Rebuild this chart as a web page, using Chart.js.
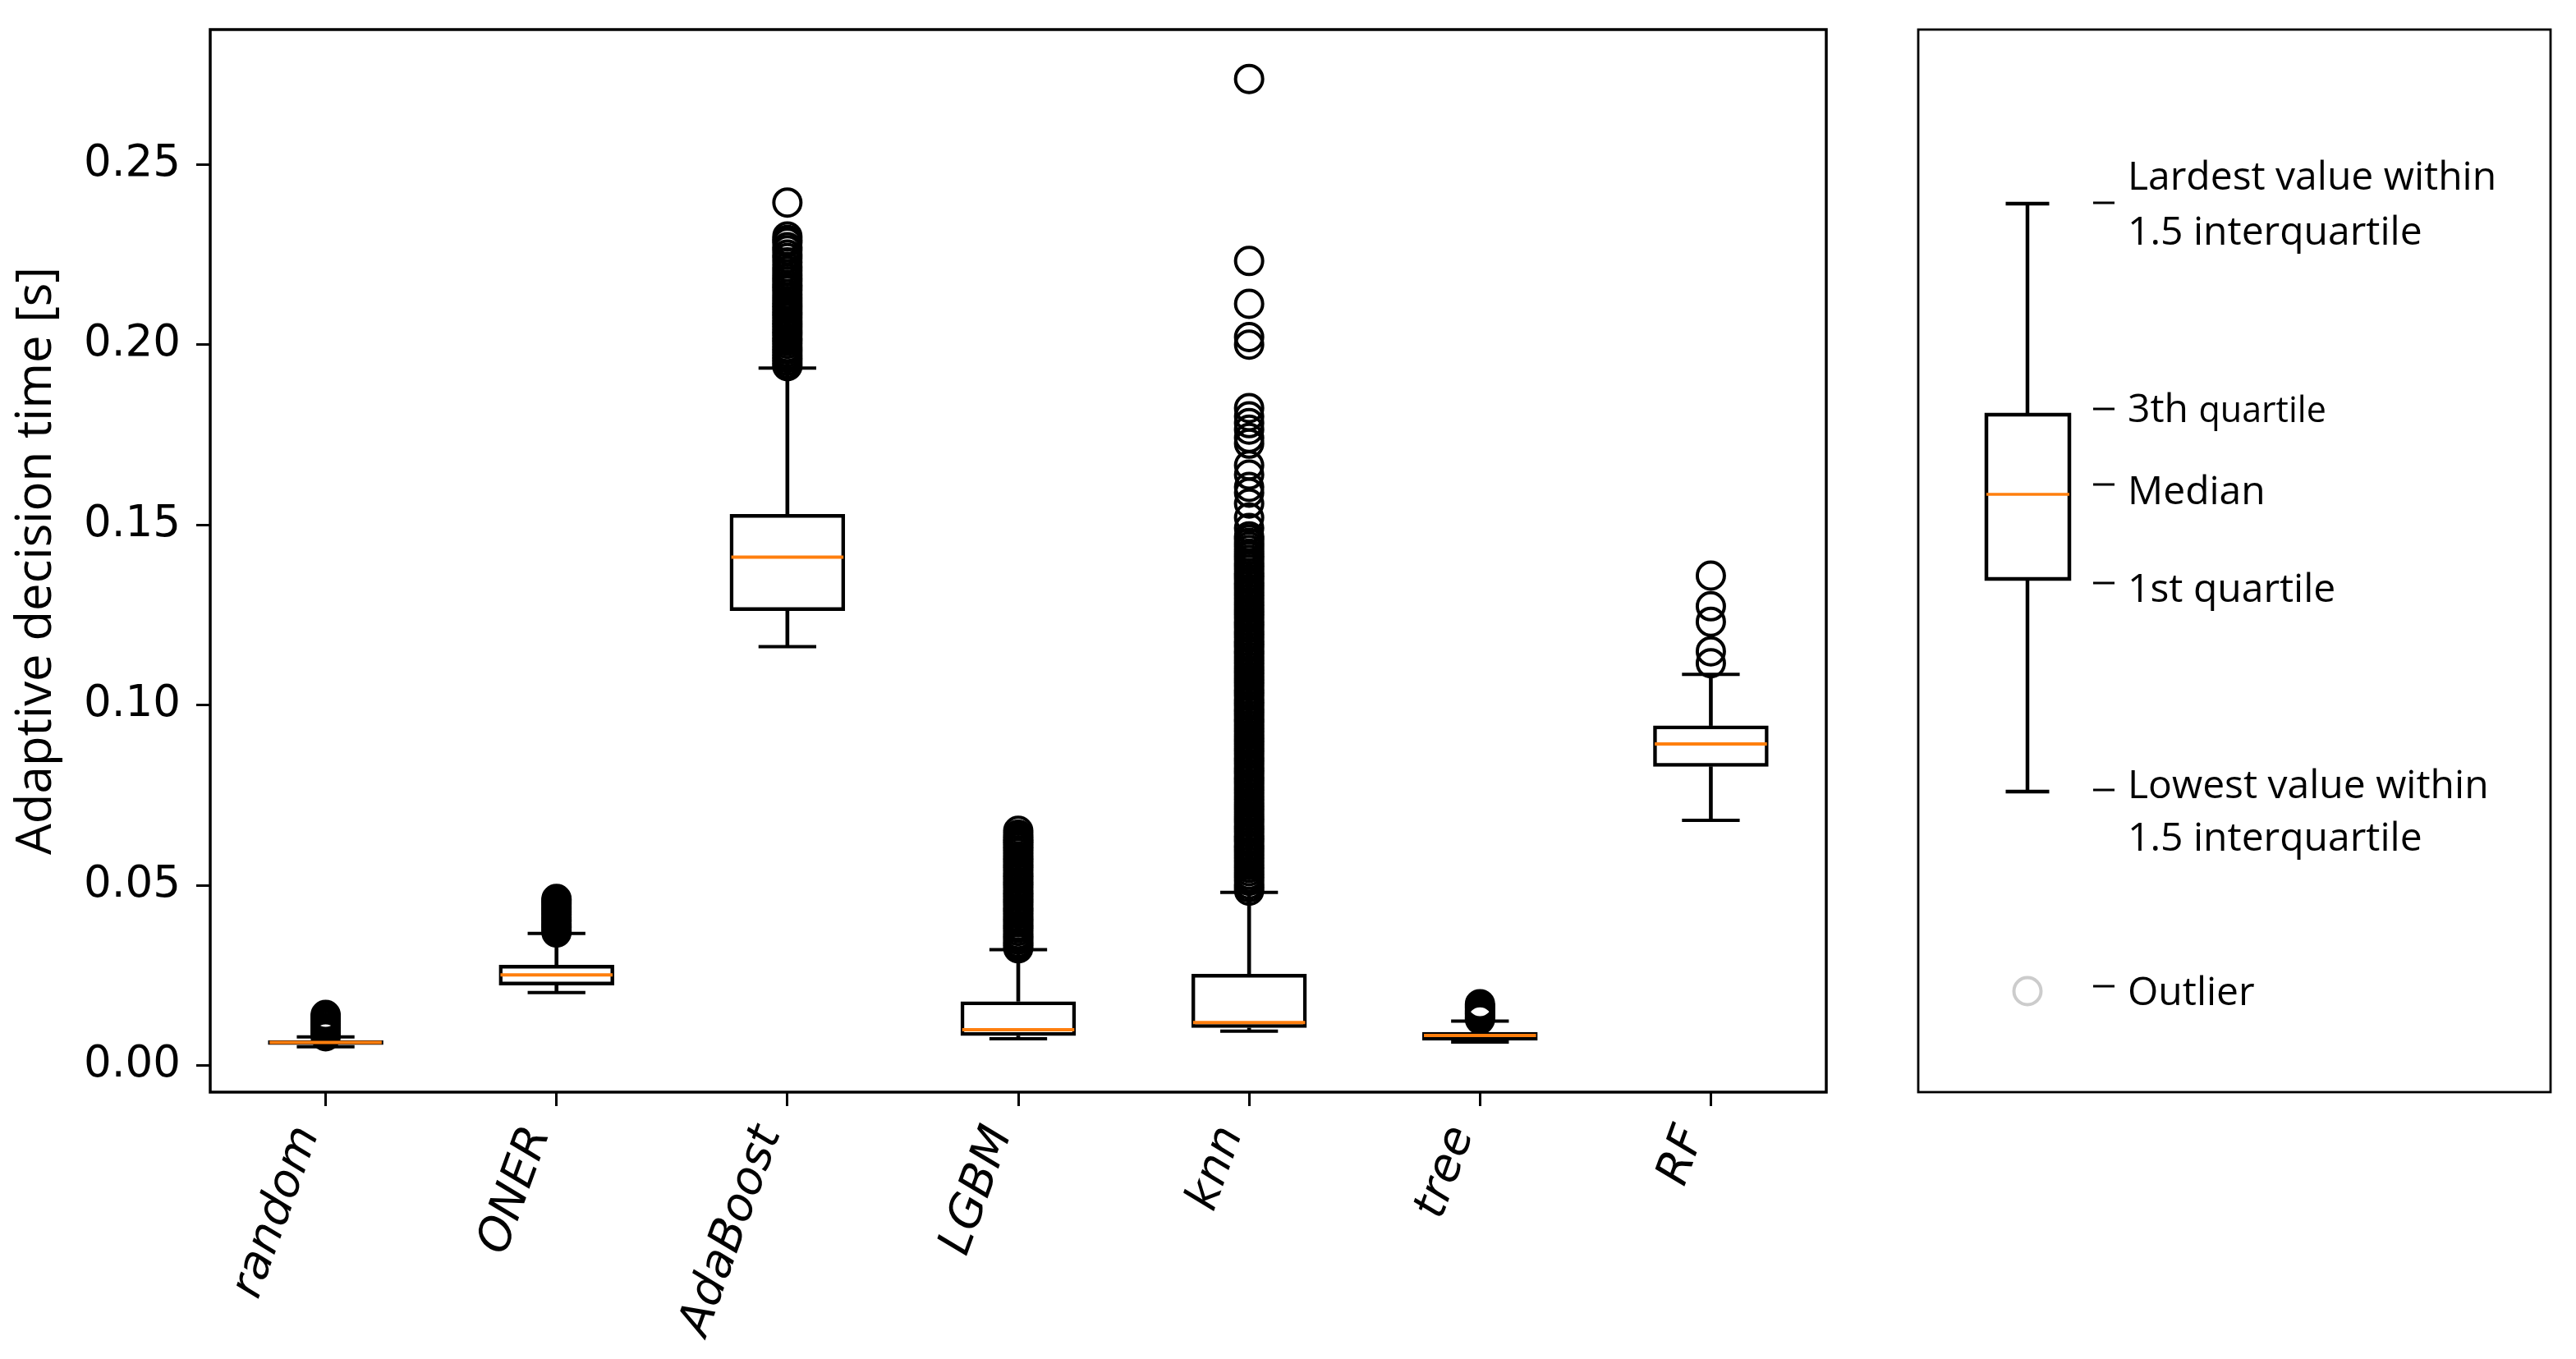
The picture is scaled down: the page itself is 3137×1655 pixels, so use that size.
<!DOCTYPE html>
<html>
<head>
<meta charset="utf-8">
<script src="https://cdn.jsdelivr.net/npm/chart.js@4.4.1/dist/chart.umd.min.js"></script>
<style>
  html, body { margin: 0; padding: 0; background: #ffffff; overflow: hidden; }
  canvas { display: block; }
</style>
</head>
<body>
<canvas id="c" width="3137" height="1655"></canvas>
<script>
// ---------------- data ----------------
const categories = ['random', 'ONER', 'AdaBoost', 'LGBM', 'knn', 'tree', 'RF'];

const whiskerLow  = [0.0052, 0.0202, 0.1162, 0.0074, 0.0095, 0.0065, 0.0680];
const quartile1   = [0.0057, 0.0222, 0.1261, 0.0082, 0.0104, 0.0069, 0.0829];
const medians     = [0.0064, 0.0251, 0.1410, 0.0099, 0.0119, 0.0083, 0.0892];
const quartile3   = [0.0070, 0.0279, 0.1530, 0.0178, 0.0254, 0.0093, 0.0943];
const whiskerHigh = [0.0079, 0.0366, 0.1935, 0.0321, 0.0480, 0.0123, 0.1085];

const outliersRandom = [0.0081, 0.0087, 0.0094, 0.0099, 0.0105, 0.0112, 0.0117, 0.0123, 0.0130, 0.0135, 0.0140];
const outliersONER = [0.0369, 0.0375, 0.0382, 0.0387, 0.0393, 0.0400, 0.0405, 0.0411, 0.0418, 0.0423, 0.0429,
  0.0436, 0.0441, 0.0447, 0.0453, 0.0458, 0.0462];
const outliersAdaBoost = [0.1940, 0.1947, 0.1955, 0.1963, 0.1970, 0.1978, 0.1986, 0.1993, 0.2002, 0.2010, 0.2017,
  0.2026, 0.2034, 0.2041, 0.2050, 0.2058, 0.2065, 0.2074, 0.2082, 0.2089, 0.2098, 0.2106, 0.2113, 0.2121,
  0.2130, 0.2140, 0.2150, 0.2158, 0.2166, 0.2176, 0.2185, 0.2195, 0.2205, 0.2215, 0.2228, 0.2240, 0.2250,
  0.2262, 0.2270, 0.2283, 0.2290, 0.2300, 0.2394];
const outliersLGBM = [0.0325, 0.0333, 0.0340, 0.0349, 0.0357, 0.0364, 0.0373, 0.0381, 0.0388, 0.0397, 0.0405,
  0.0412, 0.0421, 0.0429, 0.0436, 0.0445, 0.0453, 0.0460, 0.0469, 0.0477, 0.0484, 0.0493, 0.0501, 0.0508,
  0.0517, 0.0525, 0.0532, 0.0541, 0.0549, 0.0556, 0.0565, 0.0573, 0.0580, 0.0589, 0.0597, 0.0605, 0.0612,
  0.0619, 0.0625, 0.0632, 0.0640, 0.0651];
const outliersKnn = [0.0485, 0.0494, 0.0502, 0.0512, 0.0521, 0.0529, 0.0539, 0.0548, 0.0556, 0.0566, 0.0575,
  0.0583, 0.0593, 0.0602, 0.0610, 0.0620, 0.0629, 0.0637, 0.0647, 0.0656, 0.0664, 0.0674, 0.0683, 0.0691,
  0.0701, 0.0710, 0.0718, 0.0728, 0.0737, 0.0745, 0.0755, 0.0764, 0.0772, 0.0782, 0.0791, 0.0799, 0.0809,
  0.0818, 0.0826, 0.0836, 0.0845, 0.0853, 0.0863, 0.0872, 0.0880, 0.0890, 0.0899, 0.0907, 0.0917, 0.0926,
  0.0934, 0.0944, 0.0953, 0.0961, 0.0971, 0.0980, 0.0988, 0.0998, 0.1007, 0.1015, 0.1025, 0.1034, 0.1042,
  0.1052, 0.1061, 0.1069, 0.1079, 0.1088, 0.1096, 0.1106, 0.1115, 0.1123, 0.1133, 0.1142, 0.1150, 0.1160,
  0.1169, 0.1177, 0.1187, 0.1196, 0.1204, 0.1214, 0.1223, 0.1231, 0.1241, 0.1250, 0.1258, 0.1268, 0.1277,
  0.1285, 0.1295, 0.1304, 0.1312, 0.1322, 0.1331, 0.1339, 0.1349, 0.1358, 0.1366, 0.1376, 0.1385, 0.1393,
  0.1403, 0.1412, 0.1420, 0.1430, 0.1440, 0.1450, 0.1460, 0.1468, 0.1491, 0.1520, 0.1559, 0.1589, 0.1605,
  0.1639, 0.1665, 0.1725, 0.1741, 0.1764, 0.1782, 0.1801, 0.1824, 0.2000, 0.2021, 0.2113, 0.2232, 0.2737];
const outliersTree = [0.0128, 0.0134, 0.0141, 0.0146, 0.0152, 0.0159, 0.0164, 0.0170];
const outliersRF = [0.1116, 0.1149, 0.1231, 0.1274, 0.1359];

const outlierLists = [outliersRandom, outliersONER, outliersAdaBoost, outliersLGBM, outliersKnn, outliersTree, outliersRF];

const yMin = -0.0074;
const yMax = 0.2874;
const yTicks = [0.00, 0.05, 0.10, 0.15, 0.20, 0.25];
const yTickLabels = ['0.00', '0.05', '0.10', '0.15', '0.20', '0.25'];
const yTitle = 'Adaptive decision time [s]';

const legendLines = [
  ['Lardest value within', '1.5 interquartile'],
  ['3th', 'quartile'],
  ['Median'],
  ['1st quartile'],
  ['Lowest value within', '1.5 interquartile'],
  ['Outlier']
];

// ---------------- styles ----------------
const BLACK = '#000000';
const ORANGE = '#ff7f0e';
const LINE_W = 4;

function catUnit(chart) {
  const s = chart.scales.x;
  if (!s || !s.width) return 281;
  return s.getPixelForValue(1) - s.getPixelForValue(0);
}

const lowWhiskers = categories.map((c, i) => [whiskerLow[i], quartile1[i]]);
const highWhiskers = categories.map((c, i) => [quartile3[i], whiskerHigh[i]]);
const boxes = categories.map((c, i) => [quartile1[i], quartile3[i]]);
const capPoints = categories.flatMap((c, i) => [{x: c, y: whiskerLow[i]}, {x: c, y: whiskerHigh[i]}]);
const medianPoints = categories.map((c, i) => ({x: c, y: medians[i]}));
const outlierPoints = categories.flatMap((c, i) => outlierLists[i].map(v => ({x: c, y: v})));

// ---------------- plugins ----------------
const framePlugin = {
  id: 'frame',
  afterDatasetsDraw(chart) {
    const {ctx, chartArea: a} = chart;
    ctx.save();
    ctx.strokeStyle = BLACK;
    ctx.lineWidth = 3.5;
    ctx.strokeRect(a.left, a.top, a.right - a.left, a.bottom - a.top);
    ctx.restore();
  }
};

const legendPlugin = {
  id: 'boxLegend',
  afterDraw(chart) {
    const {ctx, chartArea: a} = chart;
    const left = 2336, right = 3106, top = a.top, bottom = a.bottom;
    ctx.save();
    ctx.strokeStyle = BLACK;
    ctx.lineWidth = 2.8;
    ctx.strokeRect(left, top, right - left, bottom - top);

    const cx = 2469;
    const yCapTop = 248, yBoxTop = 505, yMed = 602, yBoxBot = 705, yCapBot = 964, yOut = 1207;
    ctx.lineWidth = 4.5;
    ctx.beginPath();
    ctx.moveTo(cx, yCapTop); ctx.lineTo(cx, yBoxTop);
    ctx.moveTo(cx, yBoxBot); ctx.lineTo(cx, yCapBot);
    ctx.moveTo(cx - 26.5, yCapTop); ctx.lineTo(cx + 26.5, yCapTop);
    ctx.moveTo(cx - 26.5, yCapBot); ctx.lineTo(cx + 26.5, yCapBot);
    ctx.stroke();
    ctx.strokeRect(2419, yBoxTop, 101, yBoxBot - yBoxTop);
    ctx.strokeStyle = ORANGE;
    ctx.lineWidth = 3.5;
    ctx.beginPath();
    ctx.moveTo(2419, yMed); ctx.lineTo(2520, yMed);
    ctx.stroke();
    ctx.strokeStyle = '#cccccc';
    ctx.lineWidth = 4;
    ctx.beginPath();
    ctx.arc(cx, yOut, 16.5, 0, Math.PI * 2);
    ctx.stroke();

    // dashes
    ctx.strokeStyle = BLACK;
    ctx.lineWidth = 3;
    const dashY = [247, 498, 590, 710, 962, 1201];
    ctx.beginPath();
    dashY.forEach(y => { ctx.moveTo(2549, y); ctx.lineTo(2575, y); });
    ctx.stroke();

    // texts
    ctx.fillStyle = BLACK;
    ctx.textBaseline = 'middle';
    ctx.textAlign = 'left';
    const f = '48px "Open Sans"';
    const fSmall = '43px "Open Sans"';
    const tx = 2591;
    ctx.font = f;
    ctx.fillText(legendLines[0][0], tx, 217);
    ctx.fillText(legendLines[0][1], tx, 284);
    ctx.fillText(legendLines[1][0], tx, 500);
    const w3 = ctx.measureText(legendLines[1][0] + ' ').width;
    ctx.font = fSmall;
    ctx.fillText(legendLines[1][1], tx + w3, 502);
    ctx.font = f;
    ctx.fillText(legendLines[2][0], tx, 600);
    ctx.fillText(legendLines[3][0], tx, 719);
    ctx.fillText(legendLines[4][0], tx, 958);
    ctx.fillText(legendLines[4][1], tx, 1022);
    ctx.fillText(legendLines[5][0], tx, 1210);
    ctx.restore();
  }
};

// ---------------- chart ----------------
const ctx = document.getElementById('c').getContext('2d');
new Chart(ctx, {
  type: 'bar',
  data: {
    labels: categories,
    datasets: [
      {
        type: 'bar', label: 'lower whisker', data: lowWhiskers, grouped: false, order: 6,
        backgroundColor: BLACK, borderWidth: 0, barThickness: LINE_W
      },
      {
        type: 'bar', label: 'upper whisker', data: highWhiskers, grouped: false, order: 6,
        backgroundColor: BLACK, borderWidth: 0, barThickness: LINE_W
      },
      {
        type: 'bar', label: 'box', data: boxes, grouped: false, order: 5,
        backgroundColor: 'rgba(255,255,255,0)', borderColor: BLACK, borderWidth: 4.5,
        borderSkipped: false, barPercentage: 0.5, categoryPercentage: 1.0
      },
      {
        type: 'line', label: 'caps', data: capPoints, order: 4, showLine: false,
        pointStyle: 'line', borderColor: BLACK, pointBorderColor: BLACK, pointBorderWidth: LINE_W,
        pointRadius: (c) => catUnit(c.chart) * 0.125, pointHoverRadius: (c) => catUnit(c.chart) * 0.125
      },
      {
        type: 'line', label: 'outliers', data: outlierPoints, order: 3, showLine: false,
        pointStyle: 'circle', pointBackgroundColor: 'rgba(0,0,0,0)', pointBorderColor: BLACK,
        pointBorderWidth: 4, pointRadius: 16.5, pointHoverRadius: 16.5
      },
      {
        type: 'line', label: 'median', data: medianPoints, order: 2, showLine: false,
        pointStyle: 'line', borderColor: ORANGE, pointBorderColor: ORANGE, pointBorderWidth: LINE_W,
        pointRadius: (c) => catUnit(c.chart) * 0.25 - 2, pointHoverRadius: (c) => catUnit(c.chart) * 0.25 - 2
      }
    ]
  },
  options: {
    responsive: false,
    devicePixelRatio: 1,
    animation: false,
    events: [],
    layout: { autoPadding: false, padding: { left: 0, top: 36, right: 913, bottom: 0 } },
    plugins: { legend: { display: false }, tooltip: { enabled: false } },
    scales: {
      x: {
        type: 'category',
        offset: true,
        grid: { offset: false, drawOnChartArea: false, drawTicks: true, tickLength: 17, tickWidth: 3, tickColor: BLACK },
        border: { display: false },
        ticks: {
          autoSkip: false, minRotation: 70, maxRotation: 70, padding: 16, labelOffset: -22, color: BLACK,
          font: { family: 'DejaVu Sans', size: 56, style: 'italic' }
        },
        afterFit(scale) { scale.height = 325; scale.paddingLeft = 0; scale.paddingRight = 0; }
      },
      y: {
        type: 'linear',
        min: yMin,
        max: yMax,
        grid: { drawOnChartArea: false, drawTicks: true, tickLength: 17, tickWidth: 3, tickColor: BLACK },
        border: { display: false },
        ticks: {
          color: BLACK, padding: 19,
          font: { family: 'DejaVu Sans', size: 53 },
          callback: (v) => { const i = yTicks.findIndex(t => Math.abs(t - v) < 1e-9); return i >= 0 ? yTickLabels[i] : ''; }
        },
        afterBuildTicks(scale) { scale.ticks = yTicks.map(v => ({ value: v })); },
        title: {
          display: true, text: yTitle, color: BLACK,
          font: { family: 'Open Sans', size: 60 }, padding: { top: 9, bottom: 0 }
        },
        afterFit(scale) { scale.width = 256; scale.paddingTop = 0; scale.paddingBottom = 0; }
      }
    }
  },
  plugins: [framePlugin, legendPlugin]
});
</script>
</body>
</html>
